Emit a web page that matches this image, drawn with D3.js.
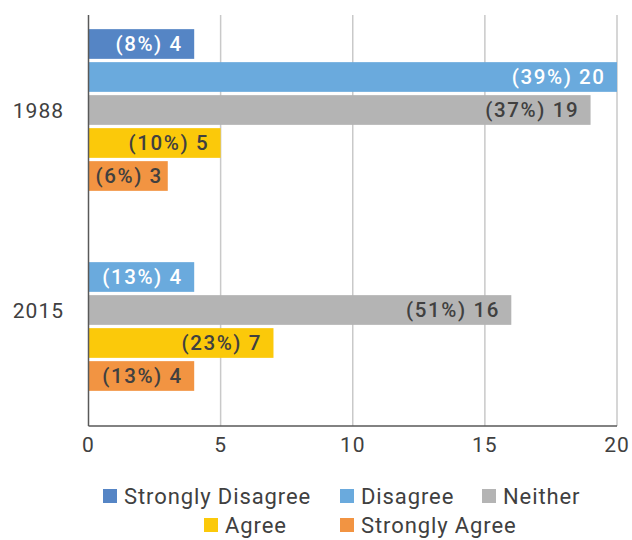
<!DOCTYPE html>
<html>
<head>
<meta charset="utf-8">
<script src="https://cdn.jsdelivr.net/npm/d3@7/dist/d3.min.js"></script>
<style>
  html, body { margin: 0; padding: 0; background: #fff; }
  svg { display: block; font-family: Roboto, "Open Sans", sans-serif; }
</style>
</head>
<body>
<svg id="chart" width="632" height="540"></svg>
<script>
// Survey responses per year
const years = ["1988", "2015"];
const series = ["Strongly Disagree", "Disagree", "Neither", "Agree", "Strongly Agree"];
const counts1988 = [4, 20, 19, 5, 3];
const counts2015 = [null, 4, 16, 7, 4];
const pct1988 = [8, 39, 37, 10, 6];
const pct2015 = [null, 13, 51, 23, 13];
const xTicks = [0, 5, 10, 15, 20];

const colors = ["#5585C5", "#6AAADD", "#B4B4B4", "#FBC90A", "#F29442"];
const labelColors = ["#ffffff", "#ffffff", "#404040", "#404040", "#404040"];

const rows = years.map((yr, i) => ({
  year: yr,
  values: series.map((s, j) => ({
    series: s,
    idx: j,
    value: (i === 0 ? counts1988 : counts2015)[j],
    pct: (i === 0 ? pct1988 : pct2015)[j]
  }))
}));

const svg = d3.select("#chart");
const plot = { left: 88.5, right: 617, top: 15, bottom: 426 };

const x = d3.scaleLinear().domain([0, 20]).range([plot.left, plot.right]);
const y0 = d3.scaleBand().domain(years).range([10, 410])
  .paddingInner(0.175).paddingOuter(0.0875);
const y1 = d3.scaleBand().domain(series).range([0, y0.bandwidth()])
  .paddingInner(0.1).paddingOuter(0.05);

// vertical gridlines
svg.append("g")
  .selectAll("line")
  .data(xTicks.filter(t => t > 0))
  .join("line")
  .attr("x1", d => x(d)).attr("x2", d => x(d))
  .attr("y1", plot.top).attr("y2", plot.bottom)
  .attr("stroke", "#c9c9c9").attr("stroke-width", 1.5);

// bars
const groups = svg.append("g")
  .selectAll("g")
  .data(rows)
  .join("g")
  .attr("transform", d => `translate(0,${y0(d.year)})`);

groups.selectAll("rect")
  .data(d => d.values.filter(v => v.value != null))
  .join("rect")
  .attr("x", x(0))
  .attr("y", d => y1(d.series))
  .attr("width", d => x(d.value) - x(0))
  .attr("height", y1.bandwidth())
  .attr("fill", d => colors[d.idx]);

// value labels, inside the bar end
const labelSpacing = 1.6;
groups.selectAll("text")
  .data(d => d.values.filter(v => v.value != null))
  .join("text")
  .attr("y", d => y1(d.series) + y1.bandwidth() / 2)
  .attr("dy", "0.36em")
  .attr("font-size", 20.5)
  .attr("font-weight", 500)
  .attr("letter-spacing", labelSpacing)
  .attr("fill", d => labelColors[d.idx])
  .text(d => `(${d.pct}%) ${d.value}`)
  .each(function(d) {
    const w = this.getComputedTextLength();
    const xs = Math.max(x(d.value) - 13 - w + labelSpacing, x(0) + 7);
    d3.select(this).attr("x", xs).attr("text-anchor", "start");
  });

// axes lines
svg.append("line")
  .attr("x1", plot.left).attr("x2", plot.left)
  .attr("y1", plot.top).attr("y2", plot.bottom)
  .attr("stroke", "#595959").attr("stroke-width", 1.5);
svg.append("line")
  .attr("x1", plot.left).attr("x2", plot.right)
  .attr("y1", plot.bottom).attr("y2", plot.bottom)
  .attr("stroke", "#595959").attr("stroke-width", 1.5);

// x tick labels
svg.append("g")
  .selectAll("text")
  .data(xTicks)
  .join("text")
  .attr("x", d => x(d))
  .attr("y", 452)
  .attr("text-anchor", "middle")
  .attr("font-size", 21)
  .attr("letter-spacing", 1)
  .attr("fill", "#404040")
  .text(d => d);

// category labels
svg.append("g")
  .selectAll("text")
  .data(years)
  .join("text")
  .attr("x", 64)
  .attr("y", d => y0(d) + y0.bandwidth() / 2)
  .attr("dy", "0.4em")
  .attr("text-anchor", "end")
  .attr("font-size", 21)
  .attr("letter-spacing", 1)
  .attr("fill", "#404040")
  .text(d => d);

// legend
const legendPos = [[103, 504], [340, 504], [482, 504], [204, 533], [340, 533]];
const leg = svg.append("g")
  .selectAll("g")
  .data(series)
  .join("g")
  .attr("transform", (d, i) => `translate(${legendPos[i][0]},${legendPos[i][1]})`);
leg.append("rect")
  .attr("x", 0).attr("y", -15).attr("width", 14).attr("height", 14)
  .attr("fill", (d, i) => colors[i]);
leg.append("text")
  .attr("x", 21)
  .attr("font-size", 22)
  .attr("letter-spacing", 0.9)
  .attr("fill", "#404040")
  .text(d => d);
</script>
</body>
</html>
